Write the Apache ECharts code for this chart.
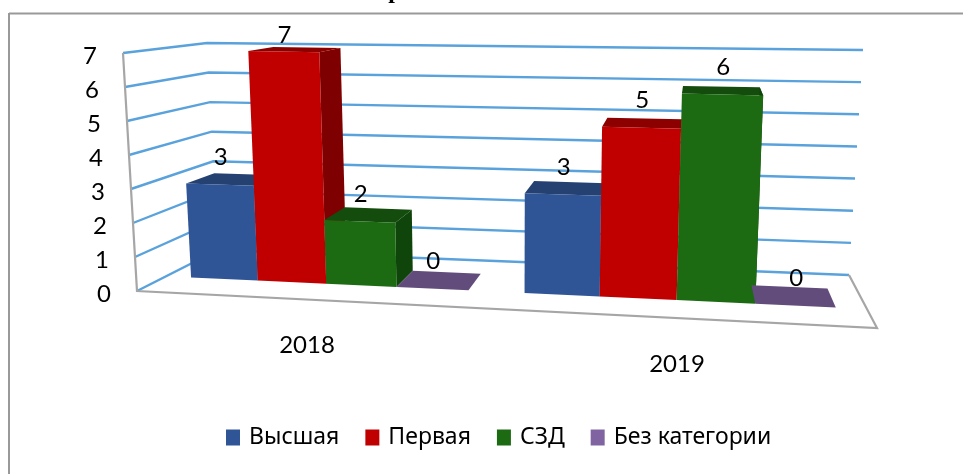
<!DOCTYPE html>
<html>
<head>
<meta charset="utf-8">
<style>html,body{margin:0;padding:0;background:#fff}#c{width:963px;height:474px}</style>
<script src="https://cdn.jsdelivr.net/npm/echarts@6/dist/echarts.min.js"></script>
</head>
<body>
<div id="c"></div>
<script>
const categories = ['2018', '2019'];
const ticks = [0, 1, 2, 3, 4, 5, 6, 7];
const vysshaya = [3, 3];
const pervaya = [7, 5];
const szd = [2, 6];
const bezKategorii = [0, 0];
const seriesNames = ['Высшая', 'Первая', 'СЗД', 'Без категории'];

const FONT = 'Lato, "Open Sans", sans-serif';
// Corners of the 3D plot box as seen on screen: [front/back][bottom/top], left and right.
const box = {
  fbl: [137, 291], fbr: [877, 328], ftl: [123, 53], ftr: [890, 69],
  bbl: [218, 250], bbr: [849, 275], btl: [207, 43], btr: [863, 50]
};
const lerp = (a, b, k) => [a[0] + (b[0] - a[0]) * k, a[1] + (b[1] - a[1]) * k];
function project(s, d, t) {
  const fb = lerp(box.fbl, box.fbr, s), ft = lerp(box.ftl, box.ftr, s);
  const bb = lerp(box.bbl, box.bbr, s), bt = lerp(box.btl, box.btr, s);
  return lerp(lerp(fb, ft, t), lerp(bb, bt, t), d);
}
const warp = x => x - 0.115 * x * (1 - x);
// Small perspective correction of bar heights towards the left of the box.
const heightWarp = (t, s) => t - 0.07 * t * (1 - t) * (1 - s);
const DEPTH_FRONT = 0.36, DEPTH_BACK = 0.72, BAR_BAND = 0.21;
const normX = (px, cs) => (px - cs.x) / cs.width;
const normY = (py, cs) => (cs.y + cs.height - py) / cs.height;

function barSeries(name, values, idx, front, side, top) {
  return {
    type: 'custom', name, coordinateSystem: 'cartesian2d',
    itemStyle: { color: idx === 3 ? '#8064A2' : front },
    encode: { x: 0, y: 1 },
    data: values.map((v, i) => [i, v]),
    silent: true, clip: false, animation: false,
    renderItem(params, api) {
      const cs = params.coordSys;
      const c = api.coord([api.value(0), api.value(1)]);
      const band = api.size([1, 0])[0];
      const x0 = warp(normX(c[0] + (idx - 2) * BAR_BAND * band, cs));
      const x1 = warp(normX(c[0] + (idx - 1) * BAR_BAND * band, cs));
      const xm = warp(normX(c[0] + (idx - 1.5) * BAR_BAND * band, cs));
      const t = heightWarp(normY(c[1], cs), xm);
      const poly = (pts, fill) => ({ type: 'polygon', shape: { points: pts }, style: { fill } });
      const F = DEPTH_FRONT, B = DEPTH_BACK;
      const children = [
        poly([project(x0, F, t), project(x1, F, t), project(x1, B, t), project(x0, B, t)], top),
        poly([project(x1, F, 0), project(x1, B, 0), project(x1, B, t), project(x1, F, t)], side)
      ];
      if (t > 0) children.push(poly([project(x0, F, 0), project(x1, F, 0), project(x1, F, t), project(x0, F, t)], front));
      const lp = project(xm, F, t);
      children.push({
        type: 'text', z2: 50,
        style: { text: String(api.value(1)), x: lp[0] + 1, y: Math.max(lp[1] - 27, 35), fill: '#000', font: '24px ' + FONT, align: 'center', verticalAlign: 'middle' }
      });
      return { type: 'group', children };
    }
  };
}

const wallSeries = {
  type: 'custom', name: 'grid', coordinateSystem: 'cartesian2d', silent: true, clip: false, animation: false,
  encode: { x: 0, y: 1 }, data: ticks.map(v => [0, v]),
  renderItem(params, api) {
    const cs = params.coordSys, v = api.value(1);
    const t = normY(api.coord([0, v])[1], cs);
    const a = project(0, 0, t), b = project(0, 1, t), c = project(1, 1, t);
    return {
      type: 'group', children: [
        { type: 'polyline', shape: { points: [a, b, c] }, style: { stroke: '#5AA2DC', lineWidth: 2.4, fill: 'none' } },
        { type: 'text', style: { text: String(v), x: a[0] - 33, y: a[1] + 3, fill: '#000', font: '24px ' + FONT, align: 'center', verticalAlign: 'middle' } }
      ]
    };
  }
};
const frameSeries = {
  type: 'custom', name: 'frame', coordinateSystem: 'cartesian2d', silent: true, clip: false, animation: false,
  encode: { x: 0, y: 1 }, data: [[0, 0]],
  renderItem() {
    const pts = [project(0, 0, 1), project(0, 0, 0), project(1, 0, 0), project(1, 1, 0)];
    return { type: 'polyline', shape: { points: pts }, style: { stroke: '#A6A6A6', lineWidth: 2.2, fill: 'none' } };
  }
};
const catSeries = {
  type: 'custom', name: 'cats', coordinateSystem: 'cartesian2d', silent: true, clip: false, animation: false,
  encode: { x: 0, y: 1 }, data: categories.map((c, i) => [i, 0]),
  renderItem(params, api) {
    const cs = params.coordSys, i = api.value(0);
    const p = project(warp(normX(api.coord([i, 0])[0], cs)), 0, 0);
    return { type: 'text', style: { text: categories[i], x: p[0] + 1, y: p[1] + 46, fill: '#000', font: '24px ' + FONT, align: 'center', verticalAlign: 'middle' } };
  }
};

const chart = echarts.init(document.getElementById('c'), null, { renderer: 'canvas' });
chart.setOption({
  animation: false,
  backgroundColor: '#fff',
  grid: { left: 100, right: 100, top: 50, bottom: 100 },
  xAxis: { type: 'category', data: categories, show: false },
  yAxis: { type: 'value', min: 0, max: 7, interval: 1, show: false },
  legend: {
    data: seriesNames, left: 221, top: 421, icon: 'rect', itemWidth: 14, itemHeight: 16, itemGap: 26,
    selectedMode: false,
    textStyle: { color: '#000', fontFamily: '"Noto Sans", sans-serif', fontSize: 23, padding: [10, 0, 0, 4] }
  },
  graphic: [
    { type: 'line', shape: { x1: 9, y1: 13.5, x2: 963, y2: 13.5 }, style: { stroke: '#999999', lineWidth: 2 } },
    { type: 'line', shape: { x1: 9, y1: 13, x2: 9, y2: 474 }, style: { stroke: '#999999', lineWidth: 2 } },
    { type: 'text', x: 395, y: -8, style: { text: 'р', fill: '#000', font: 'bold 24px "Liberation Serif"', align: 'center', verticalAlign: 'middle' } }
  ],
  series: [
    wallSeries, frameSeries, catSeries,
    barSeries(seriesNames[0], vysshaya, 0, '#2F5597', '#223F70', '#254172'),
    barSeries(seriesNames[1], pervaya, 1, '#C00000', '#7F0000', '#8C0000'),
    barSeries(seriesNames[2], szd, 2, '#1C6B12', '#0F450A', '#134C0C'),
    barSeries(seriesNames[3], bezKategorii, 3, '#604A7B', '#604A7B', '#624C7C')
  ]
});
</script>
</body>
</html>
